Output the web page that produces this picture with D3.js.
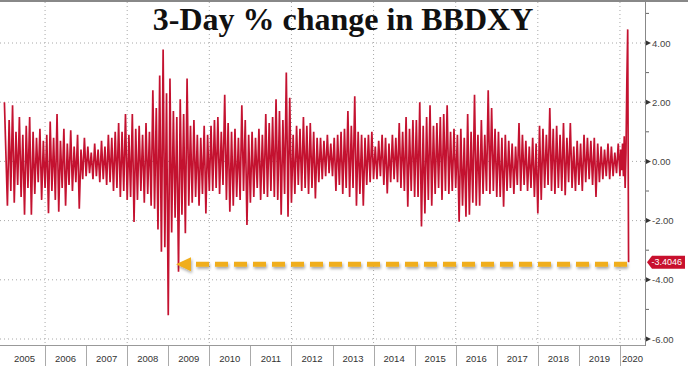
<!DOCTYPE html>
<html>
<head>
<meta charset="utf-8">
<script src="https://cdn.jsdelivr.net/npm/d3@7"></script>
<style>
  body { margin: 0; background: #fff; }
  svg { display: block; font-family: "Liberation Sans", Arial, sans-serif; }
</style>
</head>
<body>
<script>
// 3-day % change: alternating swing highs / lows, 24 per year
var v2005 = [2.0,-1.5, 1.4,-1.0, 1.9,-1.4, 1.0,-0.8, 1.5,-1.2, 0.9,-1.8, 1.2,-0.9, 1.5,-1.8, 1.0,-1.1, 0.8,-0.7, 1.1,-1.3, 0.7,-0.9];
var v2006 = [0.9,-1.75, 1.35,-1.0, 0.8,-1.3, 1.6,-1.7, 0.7,-0.9, 1.1,-1.5, 0.6,-0.8, 1.05,-1.0, 0.5,-0.7, 0.9,-1.6, 0.4,-0.6, 0.8,-0.5];
var v2007 = [0.5,-0.4, 0.3,-0.6, 0.6,-0.5, 0.4,-0.7, 0.7,-0.6, 0.5,-0.8, 0.9,-0.7, 0.8,-1.0, 1.0,-0.9, 1.3,-1.2, 1.0,-1.0, 1.6,-1.3];
var v2008 = [0.9,-1.2, 1.6,-2.05, 1.1,-1.3, 1.2,-1.0, 0.9,-1.4, 1.3,-1.1, 1.0,-1.5, 2.4,-1.6, 1.8,-2.3, 2.9,-3.05, 3.78,-2.9, 2.3,-5.2];
var v2009 = [2.8,-2.4, 1.7,-1.9, 1.5,-3.73, 2.1,-1.8, 1.6,-2.43, 2.8,-1.5, 1.2,-1.4, 1.4,-1.2, 0.9,-1.5, 0.8,-1.1, 1.2,-1.76, 0.9,-1.0];
var v2010 = [1.2,-1.0, 1.4,-0.9, 1.5,-1.1, 1.0,-0.8, 2.25,-1.3, 1.3,-1.7, 1.0,-1.5, 1.1,-1.2, 0.8,-1.3, 1.9,-1.0, 1.4,-2.15, 0.9,-1.4];
var v2011 = [1.0,-1.2, 0.8,-0.9, 1.1,-1.3, 0.9,-1.1, 1.6,-1.2, 1.3,-1.0, 1.5,-1.2, 2.1,-1.3, 1.7,-1.8, 1.4,-1.1, 3.0,-1.87, 2.15,-1.4];
var v2012 = [0.9,-1.1, 1.2,-0.8, 1.1,-1.0, 1.5,-0.9, 1.2,-1.1, 1.3,-0.9, 1.0,-1.25, 0.8,-0.7, 0.8,-0.6, 0.7,-0.5, 0.9,-0.4, 0.6,-0.5];
var v2013 = [0.8,-1.0, 0.9,-0.8, 1.0,-1.1, 1.1,-0.9, 1.7,-1.2, 1.2,-0.9, 2.2,-1.5, 1.0,-1.1, 0.9,-1.5, 0.8,-0.8, 0.9,-0.7, 1.0,-0.6];
var v2014 = [0.5,-0.6, 0.7,-0.5, 0.9,-0.8, 0.8,-1.08, 0.6,-0.7, 0.9,-0.6, 0.8,-0.7, 1.3,-0.9, 1.0,-1.0, 1.5,-1.53, 1.1,-1.0, 1.4,-1.2];
var v2015 = [1.4,-1.2, 2.0,-2.2, 1.2,-1.76, 1.5,-1.3, 1.9,-1.5, 1.2,-1.1, 1.3,-0.9, 1.5,-1.3, 1.6,-1.0, 1.9,-1.1, 1.0,-1.0, 1.1,-0.9];
var v2016 = [0.9,-2.04, 1.1,-1.5, 0.8,-1.87, 1.6,-1.8, 1.0,-1.4, 2.25,-1.5, 0.9,-1.5, 1.4,-1.1, 0.9,-1.0, 2.4,-1.1, 1.8,-1.0, 1.1,-1.2];
var v2017 = [1.0,-1.2, 0.8,-1.53, 0.9,-1.0, 0.7,-0.9, 0.6,-1.1, 0.5,-0.8, 1.3,-1.0, 0.9,-0.8, 0.7,-1.0, 0.5,-0.9, 0.8,-1.2, 0.6,-1.76];
var v2018 = [1.2,-1.3, 1.1,-0.9, 0.9,-0.8, 1.8,-1.0, 1.1,-1.1, 1.2,-0.9, 0.9,-1.0, 1.3,-1.14, 0.8,-0.7, 1.3,-0.9, 0.5,-1.0, 0.7,-0.8];
var v2019 = [0.6,-1.0, 0.9,-0.7, 0.8,-0.6, 0.7,-0.8, 0.8,-1.2, 0.6,-0.7, 0.5,-0.6, 0.4,-0.5, 0.6,-0.6, 0.5,-0.5, 0.3,-0.4, 0.6,-0.5];
var v2020 = [0.4,-0.3, 0.6,-0.5, 0.85,-0.9, 0.3, 2.7, 4.46, -3.4046];   // Jan - mid March 2020
var lastObs = 2020.21;

var years = [2005,2006,2007,2008,2009,2010,2011,2012,2013,2014,2015,2016,2017,2018,2019,2020];
var yearVals = [v2005,v2006,v2007,v2008,v2009,v2010,v2011,v2012,v2013,v2014,v2015,v2016,v2017,v2018,v2019,v2020];
var yTicks = [4, 2, 0, -2, -4, -6];
var yMinor = [5, 3, 1, -1, -3, -5];
var lastValue = -3.4046;
var title = "3-Day % change in BBDXY";

var width = 688, height = 366;

// flatten into (time, value) points
var points = [];
yearVals.forEach(function(arr, k){
    var span = (k == yearVals.length - 1) ? (lastObs - years[k]) : 1;
    arr.forEach(function(v, i){
        points.push({t: years[k] + span * (i + 1) / arr.length, v: v});
    });
});
points[0].t = 2005.01;

var xScale = d3.scaleLinear().domain([2005, 2020.61]).range([4, 645]);
var yScale = d3.scaleLinear().domain([-6, 4]).range([339, 43]);

var svg = d3.select("body").append("svg")
    .attr("width", width)
    .attr("height", height);

var defs = svg.append("defs");
var f = defs.append("filter").attr("id", "shadow").attr("x", "-5%").attr("y", "-100%").attr("width", "110%").attr("height", "300%");
f.append("feGaussianBlur").attr("in", "SourceAlpha").attr("stdDeviation", 1.5).attr("result", "b");
f.append("feOffset").attr("in", "b").attr("dx", 1).attr("dy", 2).attr("result", "o");
f.append("feComponentTransfer").attr("in", "o").attr("result", "s")
    .append("feFuncA").attr("type", "linear").attr("slope", 0.35);
var fm = f.append("feMerge");
fm.append("feMergeNode").attr("in", "s");
fm.append("feMergeNode").attr("in", "SourceGraphic");

// gridlines
svg.selectAll(".hgrid")
    .data(yTicks)
    .enter()
    .append("line")
    .attr("x1", 0)
    .attr("x2", 645)
    .attr("y1", function(d){ return yScale(d); })
    .attr("y2", function(d){ return yScale(d); })
    .attr("stroke", "#a8a8a8")
    .attr("stroke-width", 1)
    .attr("stroke-dasharray", "1,3");

svg.selectAll(".vgrid")
    .data(years.filter(function(d){ return d % 2 == 0; }))
    .enter()
    .append("line")
    .attr("x1", function(d){ return xScale(d); })
    .attr("x2", function(d){ return xScale(d); })
    .attr("y1", 2)
    .attr("y2", 345)
    .attr("stroke", "#a8a8a8")
    .attr("stroke-width", 1)
    .attr("stroke-dasharray", "1,3");

// top border
svg.append("line")
    .attr("x1", 0).attr("x2", 688)
    .attr("y1", 1).attr("y2", 1)
    .attr("stroke", "#888")
    .attr("stroke-width", 2);

// bottom axis line + year cells
svg.append("line")
    .attr("x1", 0).attr("x2", 645)
    .attr("y1", 345.5).attr("y2", 345.5)
    .attr("stroke", "#999");

svg.selectAll(".ydiv")
    .data(years.slice(1))
    .enter()
    .append("line")
    .attr("x1", function(d){ return Math.round(xScale(d)) + 0.5; })
    .attr("x2", function(d){ return Math.round(xScale(d)) + 0.5; })
    .attr("y1", 346)
    .attr("y2", 366)
    .attr("stroke", "#aaa");

svg.selectAll(".ylab")
    .data(years)
    .enter()
    .append("text")
    .attr("x", function(d){
        if (d == 2020) return (xScale(2020) + 645) / 2;
        return xScale(d + 0.5);
    })
    .attr("y", 362)
    .attr("text-anchor", "middle")
    .attr("font-size", 9.5)
    .attr("fill", "#333")
    .text(function(d){ return d; });

// the series
var line = d3.line()
    .x(function(d){ return xScale(d.t); })
    .y(function(d){ return yScale(d.v); });

svg.append("path")
    .datum(points)
    .attr("d", line)
    .attr("fill", "none")
    .attr("stroke", "#c41230")
    .attr("stroke-width", 1.7)
    .attr("stroke-linejoin", "bevel");

// right axis
svg.append("line")
    .attr("x1", 645.5).attr("x2", 645.5)
    .attr("y1", 0).attr("y2", 346)
    .attr("stroke", "#888");

svg.selectAll(".minor")
    .data(yMinor)
    .enter()
    .append("line")
    .attr("x1", 646).attr("x2", 649)
    .attr("y1", function(d){ return yScale(d); })
    .attr("y2", function(d){ return yScale(d); })
    .attr("stroke", "#666");

svg.selectAll(".major")
    .data(yTicks)
    .enter()
    .append("path")
    .attr("d", function(d){
        var y = yScale(d);
        return "M646," + (y - 2.5) + "L651," + y + "L646," + (y + 2.5) + "Z";
    })
    .attr("fill", "#333");

svg.selectAll(".ytick")
    .data(yTicks)
    .enter()
    .append("text")
    .attr("x", 652)
    .attr("y", function(d){ return yScale(d) + 3.5; })
    .attr("font-size", 9.5)
    .attr("fill", "#444")
    .text(function(d){ return d3.format(".2f")(d).replace("−", "-"); });

// last value tag
var ly = yScale(lastValue);
svg.append("path")
    .attr("d", "M647," + ly + "L652," + (ly - 6.5) + "L685," + (ly - 6.5) + "L685," + (ly + 6.5) + "L652," + (ly + 6.5) + "Z")
    .attr("fill", "#c8102e");
svg.append("text")
    .attr("x", 651.5)
    .attr("y", ly + 3.3)
    .attr("font-size", 9)
    .attr("fill", "#fff")
    .text(d3.format(".4f")(lastValue).replace("−", "-"));

// dashed arrow from today's value back to the 2009 level
var ay = ly + 2;
var arrow = svg.append("g").attr("filter", "url(#shadow)");
arrow.append("line")
    .attr("x1", 196).attr("x2", xScale(lastObs))
    .attr("y1", ay).attr("y2", ay)
    .attr("stroke", "#f0ae1c")
    .attr("stroke-width", 5)
    .attr("stroke-dasharray", "13,6");
arrow.append("path")
    .attr("d", "M176," + ay + "L191," + (ay - 7) + "L191," + (ay + 7) + "Z")
    .attr("fill", "#f0ae1c");

// title
svg.append("text")
    .attr("x", 343)
    .attr("y", 30)
    .attr("text-anchor", "middle")
    .attr("font-family", "'Liberation Serif', 'Times New Roman', serif")
    .attr("font-weight", "bold")
    .attr("font-size", 32)
    .attr("fill", "#111")
    .text(title);
</script>
</body>
</html>
